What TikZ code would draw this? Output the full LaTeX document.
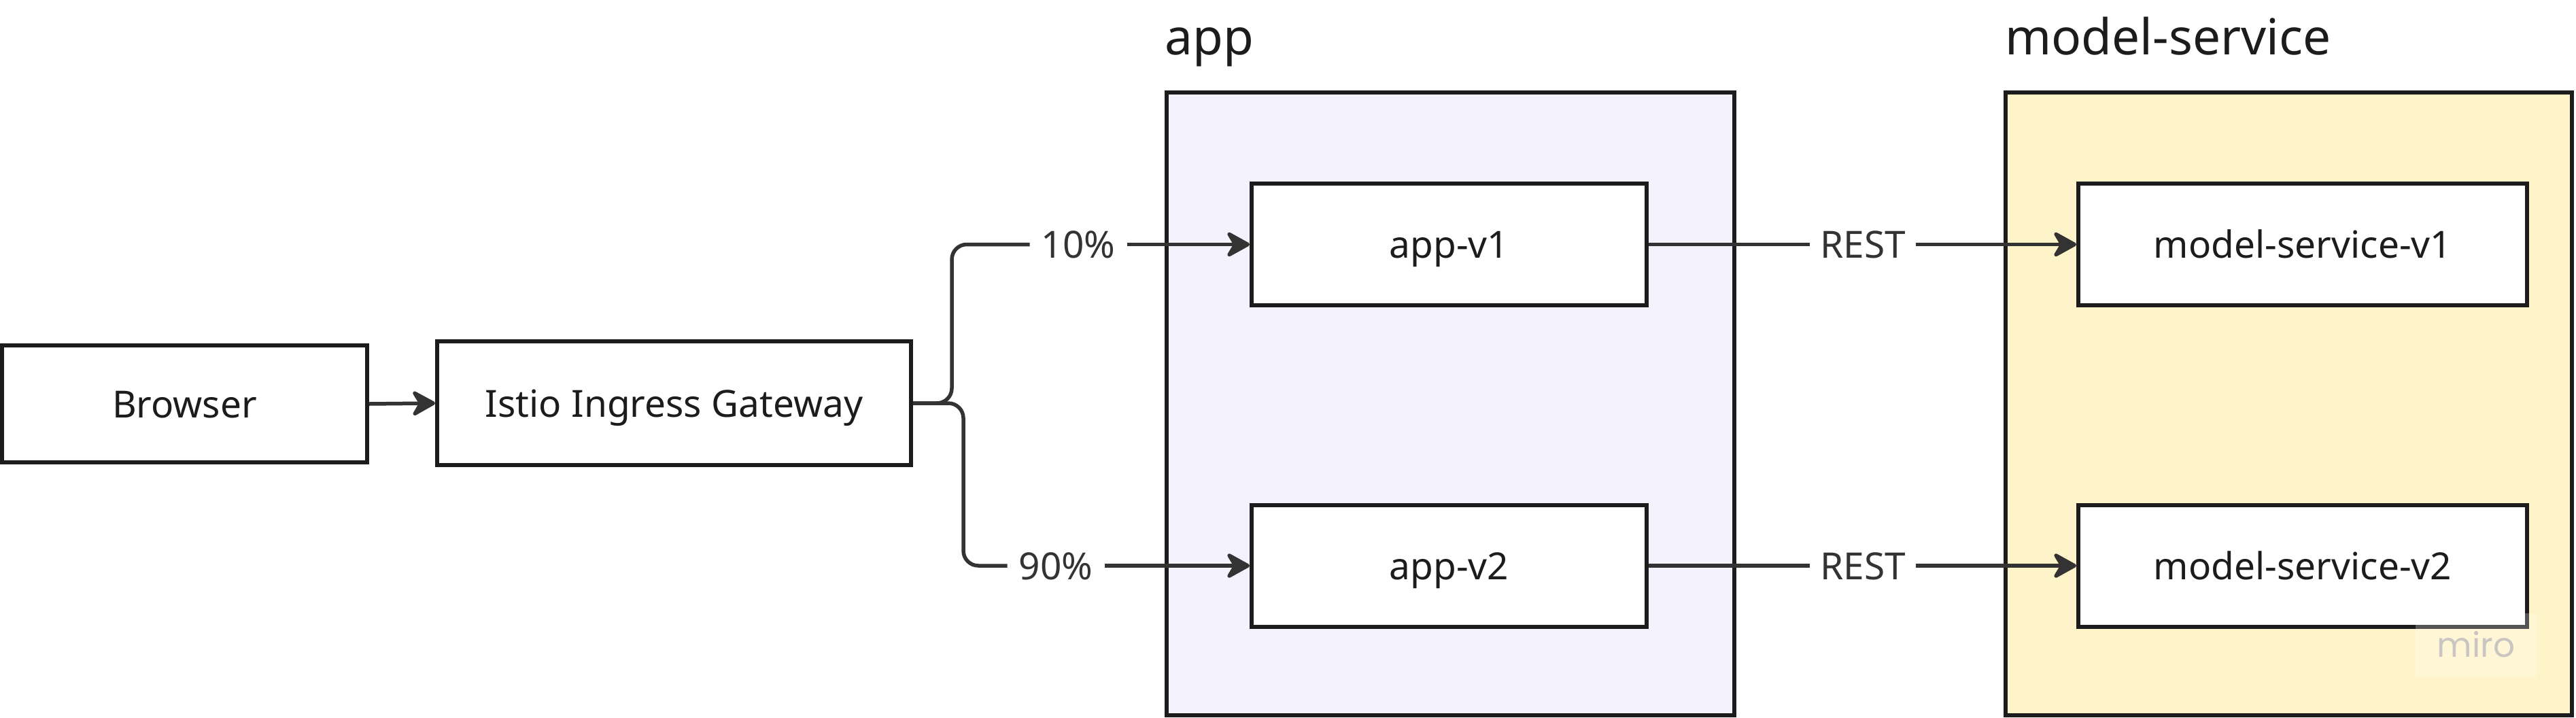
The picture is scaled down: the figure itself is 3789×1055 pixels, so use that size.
\documentclass[tikz,border=0pt]{standalone}
\usepackage{fontspec}
\setmainfont{Noto Sans}
\newfontfamily\wmfont{Poppins}
\usetikzlibrary{arrows.meta}
\definecolor{boxline}{HTML}{1C1C1C}
\definecolor{conn}{HTML}{333333}
\definecolor{applav}{HTML}{F4F2FD}
\definecolor{msyel}{HTML}{FFF4C9}
\definecolor{wmgray}{HTML}{C9C5C2}
\tikzset{
  box/.style={draw=boxline, line width=6pt, fill=white, text=boxline,
    font=\fontsize{55}{66}\selectfont, inner sep=0pt,
    text height=40pt, text depth=0pt},
  container/.style={draw=boxline, line width=6pt, inner sep=0pt},
  title/.style={anchor=base west, inner sep=0pt, text=boxline,
    font=\fontsize{73}{88}\selectfont},
  lbl/.style={inner xsep=17pt, inner ysep=0pt, text=conn,
    font=\fontsize{55}{66}\selectfont, text height=40pt, text depth=0pt},
  conn/.style={draw=conn, line width=5.5pt, rounded corners=22pt},
  arr/.style={conn, -{Stealth[length=40pt, width=44pt, inset=13pt, round]}},
}
\begin{document}
\begin{tikzpicture}[x=1pt, y=-1pt]
\useasboundingbox (0,0) rectangle (3789,1055);
% containers
\node[container, fill=applav, minimum width=835pt, minimum height=916pt] (appc) at (2133.5,594) {};
\node[container, fill=msyel, minimum width=833pt, minimum height=916pt] (msc) at (3366.5,594) {};
\node[title] (tapp) at (1713,80) {app};
\node[title] (tms) at (2949,80) {model-service};
% nodes
\node[box, minimum width=537pt, minimum height=172pt] (br) at (271.5,594) {Browser};
\node[box, minimum width=697pt, minimum height=182pt] (ist) at (991.5,593) {Istio Ingress Gateway};
\node[box, minimum width=581pt, minimum height=179pt] (a1) at (2131.5,359.5) {app-v1};
\node[box, minimum width=581pt, minimum height=179pt] (a2) at (2131.5,832) {app-v2};
\node[box, minimum width=660pt, minimum height=179pt] (m1) at (3387,359.5) {model-service-v1};
\node[box, minimum width=660pt, minimum height=179pt] (m2) at (3387,832) {model-service-v2};
% labels
\node[lbl] (l10) at (1586,359.5) {10\%};
\node[lbl] (l90) at (1553,832) {90\%};
\node[lbl, inner xsep=15pt] (r1) at (2740,359.5) {REST};
\node[lbl, inner xsep=15pt] (r2) at (2740,832) {REST};
\coordinate (b1) at (1400,593);
\coordinate (b2) at (1417,593);
% connectors
\draw[arr] (br.east) -- (ist.west);
\draw[conn] (ist.east) -- (b1) |- (l10.west);
\draw[conn] (ist.east) -- (b2) |- (l90.west);
\draw[arr] (l10.east) -- (a1.west);
\draw[arr] (l90.east) -- (a2.west);
\draw[conn] (a1.east) -- (r1.west);
\draw[arr] (r1.east) -- (m1.west);
\draw[conn] (a2.east) -- (r2.west);
\draw[arr] (r2.east) -- (m2.west);
% watermark
\fill[white, opacity=0.25] (3553,902) rectangle (3731,996);
\node[anchor=base, inner sep=0pt, text=wmgray, font=\wmfont\fontsize{50}{60}\selectfont] (wm) at (3642,966) {miro};
\end{tikzpicture}
\end{document}
